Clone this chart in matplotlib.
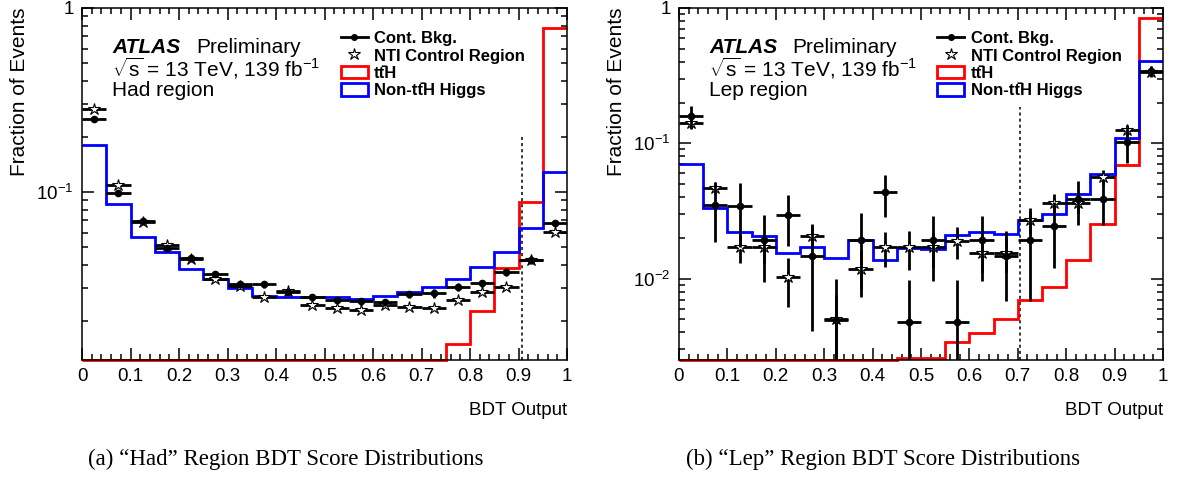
import matplotlib
matplotlib.use("Agg")
import matplotlib.pyplot as plt
from matplotlib.lines import Line2D
from matplotlib.patches import Patch
from matplotlib.ticker import FixedLocator, MultipleLocator, FuncFormatter
import numpy as np

plt.rcParams['font.family'] = ['Liberation Sans', 'DejaVu Sans']
plt.rcParams['mathtext.fontset'] = 'custom'
plt.rcParams['mathtext.rm'] = 'Liberation Sans'
plt.rcParams['mathtext.it'] = 'Liberation Sans:italic'
plt.rcParams['mathtext.bf'] = 'Liberation Sans:bold'

# bin edges of the BDT output (20 bins of 0.05)
edges = np.linspace(0, 1, 21)

# "Had" region
had_nonttH = [0.180, 0.0858, 0.0572, 0.0470, 0.0382, 0.0337, 0.0300, 0.0273, 0.0270, 0.0268,
              0.0270, 0.0262, 0.0273, 0.0285, 0.0306, 0.0337, 0.0393, 0.0470, 0.0640, 0.128]
had_ttH = [0, 0, 0, 0, 0, 0, 0, 0, 0, 0,
           0, 0, 0, 0, 0, 0.0149, 0.0224, 0.0385, 0.088, 0.775]
had_cont = [0.249, 0.099, 0.0698, 0.0494, 0.0438, 0.0357, 0.0315, 0.0314, 0.0287, 0.0268,
            0.0259, 0.0254, 0.0251, 0.0278, 0.0281, 0.0306, 0.0319, 0.0366, 0.0427, 0.0676]
had_cont_err = [0.005, 0.002, 0.0015, 0.0012, 0.001, 0.001, 0.0009, 0.0015, 0.0012, 0.001,
                0.001, 0.001, 0.001, 0.0012, 0.0015, 0.0015, 0.0015, 0.0018, 0.002, 0.002]
had_nti = [0.283, 0.109, 0.069, 0.0515, 0.043, 0.0335, 0.0308, 0.0268, 0.029, 0.0243,
           0.0233, 0.0228, 0.0243, 0.0238, 0.0233, 0.0259, 0.0287, 0.0306, 0.0427, 0.0604]
had_nti_err = [0.004, 0.002, 0.0012, 0.001, 0.0008, 0.0007, 0.0007, 0.0007, 0.0007, 0.0006,
               0.0006, 0.0006, 0.0006, 0.0006, 0.0006, 0.0007, 0.0008, 0.0009, 0.0012, 0.0015]
had_cut = 0.908
had_cut_top = 0.20

# "Lep" region
lep_nonttH = [0.0699, 0.0334, 0.0220, 0.0208, 0.0154, 0.0171, 0.0141, 0.0194, 0.0136, 0.0168,
              0.0166, 0.0211, 0.0220, 0.0214, 0.0272, 0.0301, 0.0424, 0.059, 0.109, 0.405]
lep_ttH = [0, 0, 0, 0, 0, 0, 0, 0, 0, 0.0026,
           0.0026, 0.00337, 0.00396, 0.00503, 0.00695, 0.00873, 0.0138, 0.0254, 0.0687, 0.839]
lep_cont = [0.158, 0.0347, 0.0341, 0.0194, 0.0293, 0.0146, 0.0049, 0.0194, 0.0436, 0.0048,
            0.0193, 0.0048, 0.0193, 0.0146, 0.0193, 0.0244, 0.0389, 0.0389, 0.102, 0.34]
lep_cont_err = [0.03, 0.016, 0.017, 0.010, 0.012, 0.0105, 0.005, 0.011, 0.015, 0.005,
                0.0097, 0.005, 0.0097, 0.0078, 0.0125, 0.0124, 0.014, 0.014, 0.03, 0.03]
lep_nti = [0.141, 0.047, 0.0171, 0.0171, 0.0102, 0.0205, 0.0050, 0.0118, 0.0171, 0.0171,
           0.0171, 0.0189, 0.0154, 0.0154, 0.0272, 0.0361, 0.0361, 0.0563, 0.125, 0.337]
lep_nti_err = [0.012, 0.005, 0.004, 0.004, 0.004, 0.004, 0.0025, 0.0045, 0.005, 0.0055,
               0.005, 0.005, 0.0045, 0.0045, 0.006, 0.006, 0.006, 0.007, 0.012, 0.02]
lep_cut = 0.705
lep_cut_top = 0.186

centers = 0.5 * (edges[1:] + edges[:-1])
halfw = 0.5 * np.diff(edges)


def ytick_fmt(v, pos):
    if abs(v - 1) < 1e-9:
        return '1'
    k = int(round(np.log10(v)))
    return '10$^{%d}$' % k


def draw_panel(ax, nonttH, ttH, cont, cont_err, nti, nti_err, cut, cut_top, ymin, region):
    ax.set_xlim(0, 1)
    ax.set_ylim(ymin, 1)
    ax.set_yscale('log')

    ax.stairs(np.clip(ttH, ymin, None), edges, color='#ff0000', lw=2.0, baseline=None,
              clip_on=False, zorder=2)
    ax.stairs(nonttH, edges, color='#0000ff', lw=2.0, baseline=None, zorder=2)

    ax.errorbar(centers, nti, xerr=halfw, yerr=nti_err, fmt='*', ms=9, mfc='white',
                mec='black', mew=0.8, ecolor='black', elinewidth=2.0, capsize=0, zorder=3)
    ax.errorbar(centers, cont, xerr=halfw, yerr=cont_err, fmt='o', ms=4.5, color='black',
                ecolor='black', elinewidth=2.0, capsize=0, zorder=4)

    ax.vlines(cut, ymin, cut_top, colors='black', linestyles=(0, (2, 2)), lw=1.1, zorder=1)

    ax.xaxis.set_major_locator(MultipleLocator(0.1))
    ax.xaxis.set_minor_locator(MultipleLocator(0.02))
    ax.xaxis.set_major_formatter(FuncFormatter(lambda v, p: '%g' % round(v, 2)))
    ax.yaxis.set_major_locator(FixedLocator([0.001, 0.01, 0.1, 1]))
    minors = [m * 10.0 ** e for e in (-3, -2, -1) for m in range(2, 10)]
    ax.yaxis.set_minor_locator(FixedLocator(minors))
    ax.yaxis.set_major_formatter(FuncFormatter(ytick_fmt))
    ax.yaxis.set_minor_formatter(FuncFormatter(lambda v, p: ''))

    ax.tick_params(which='both', direction='in', top=True, right=True, width=1.1,
                   labelsize=13.5)
    ax.tick_params(which='major', length=8.5, pad=6)
    ax.tick_params(which='minor', length=4)
    for s in ax.spines.values():
        s.set_linewidth(1.1)

    ax.set_ylabel('Fraction of Events', fontsize=15, loc='top')
    ax.yaxis.set_label_coords(-0.109, 1)
    ax.set_xlabel('BDT Output', fontsize=13.5, loc='right')
    ax.xaxis.set_label_coords(1, -0.12)

    ax.text(0.062, 0.871, 'ATLAS', transform=ax.transAxes, fontsize=15,
            fontweight='bold', fontstyle='italic', va='baseline')
    ax.text(0.235, 0.871, 'Preliminary', transform=ax.transAxes, fontsize=15, va='baseline')
    ax.text(0.062, 0.804, r'$\sqrt{\mathrm{s}}$ = 13 TeV, 139 fb$^{\mathrm{-1}}$',
            transform=ax.transAxes, fontsize=15, va='baseline')
    ax.text(0.062, 0.750, region, transform=ax.transAxes, fontsize=15, va='baseline')

    handles = [
        Line2D([], [], color='black', lw=2.0, marker='o', ms=4),
        Line2D([], [], ls='none', marker='*', ms=9, mfc='white', mec='black', mew=0.8),
        Patch(facecolor='white', edgecolor='#ff0000', lw=2.0),
        Patch(facecolor='white', edgecolor='#0000ff', lw=2.0),
    ]
    labels = ['Cont. Bkg.', 'NTI Control Region', 'tt\u0304H', 'Non-tt\u0304H Higgs']
    ax.legend(handles, labels, loc='upper left', bbox_to_anchor=(0.52, 0.953), frameon=False,
              prop={'weight': 'bold', 'size': 12}, handlelength=1.6, handleheight=0.8,
              handletextpad=0.4, labelspacing=0.12, borderaxespad=0)


fig = plt.figure(figsize=(11.79, 4.78), dpi=100)
ax1 = fig.add_axes([82 / 1179, 118 / 478, 485 / 1179, 352 / 478])
ax2 = fig.add_axes([679 / 1179, 118 / 478, 484 / 1179, 352 / 478])

draw_panel(ax1, had_nonttH, had_ttH, had_cont, had_cont_err, had_nti, had_nti_err,
           had_cut, had_cut_top, 0.0122, 'Had region')
draw_panel(ax2, lep_nonttH, lep_ttH, lep_cont, lep_cont_err, lep_nti, lep_nti_err,
           lep_cut, lep_cut_top, 0.0025, 'Lep region')

fig.text(286 / 1179, 0.027, '(a) \u201cHad\u201d Region BDT Score Distributions',
         family='Liberation Serif', fontsize=16.5, ha='center', va='baseline')
fig.text(883 / 1179, 0.027, '(b) \u201cLep\u201d Region BDT Score Distributions',
         family='Liberation Serif', fontsize=16.5, ha='center', va='baseline')

fig.savefig('out.png', dpi=100)
